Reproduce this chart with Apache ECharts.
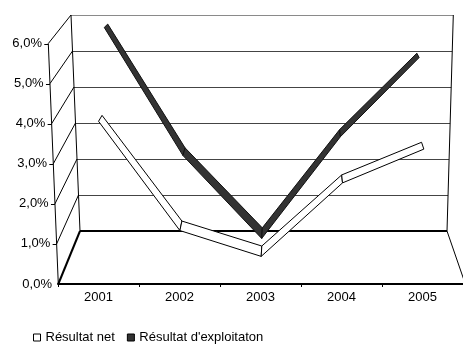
<!DOCTYPE html>
<html><head><meta charset="utf-8">
<script src="https://cdn.jsdelivr.net/npm/echarts@6/dist/echarts.min.js"></script>
<style>html,body{margin:0;padding:0;background:#fff}#c{width:463px;height:347px}</style>
</head><body><div id="c"></div>
<script>
// ---- data ----
const years = ['2001', '2002', '2003', '2004', '2005'];
const resultatNet = [3.9, 1.15, 0.5, 2.35, 3.2];
const resultatExploitation = [5.9, 2.5, 0.3, 3.0, 5.1];
const valueTicks = [0, 1, 2, 3, 4, 5, 6];
const seriesNames = ['Résultat net', "Résultat d'exploitaton"];

// ---- helpers ----
const FONT = '"Liberation Sans", Arial, sans-serif';
const chart = echarts.init(document.getElementById('c'), null, { renderer: 'canvas' });

function segments(vals) {
  const out = [];
  for (let i = 0; i < vals.length - 1; i++) out.push([i, vals[i], i + 1, vals[i + 1]]);
  return out;
}
// depth vector of the 3D ribbon (front -> back), a styling effect
function depth(i, v) { return [0.6 - 1.44 * (i - 2), -(11 - 1.3 * v)]; }

function ribbon(fill, stroke) {
  return function (params, api) {
    const i0 = api.value(0), v0 = api.value(1), i1 = api.value(2), v1 = api.value(3);
    const p0 = api.coord([i0, v0]), p1 = api.coord([i1, v1]);
    const d0 = depth(i0, v0), d1 = depth(i1, v1);
    const pts = [
      [p0[0] - d0[0] / 2, p0[1] - d0[1] / 2],
      [p1[0] - d1[0] / 2, p1[1] - d1[1] / 2],
      [p1[0] + d1[0] / 2, p1[1] + d1[1] / 2],
      [p0[0] + d0[0] / 2, p0[1] + d0[1] / 2]
    ];
    return { type: 'polygon', shape: { points: pts }, style: { fill: fill, stroke: stroke, lineWidth: 1 } };
  };
}

const rich = {};
valueTicks.forEach(function (t) {
  rich['p' + t] = { padding: [0, 10 * t / 6, 0, 0], fontSize: 13, color: '#000', fontFamily: FONT };
});

const hiddenX = function (g) { return { type: 'value', gridIndex: g, min: -0.5, max: 4.5, show: false }; };
const hiddenY = function (g) { return { type: 'value', gridIndex: g, min: 0, max: 6, interval: 1, show: false }; };

chart.setOption({
  animation: false,
  backgroundColor: '#fff',
  grid: [
    { left: 58, right: 0, top: 43.5, bottom: 63 },      // front plane
    { left: 80, right: 16, top: 15, bottom: 116 },      // back wall
    { left: 67, right: 6, top: 22.07, bottom: 102.75 }, // dark ribbon plane
    { left: 60, right: -2, top: 36.27, bottom: 76.25 }  // white ribbon plane
  ],
  xAxis: [
    {
      type: 'category', gridIndex: 0, data: years, boundaryGap: true,
      axisLine: { show: true, lineStyle: { color: '#000', width: 2 } },
      axisTick: { show: true, length: 3, lineStyle: { color: '#000', width: 1 } },
      axisLabel: { color: '#000', fontSize: 13, fontFamily: FONT, margin: 7 },
      splitLine: { show: false }
    },
    hiddenX(1), hiddenX(2), hiddenX(3)
  ],
  yAxis: [
    {
      type: 'value', gridIndex: 0, min: 0, max: 6, interval: 1,
      axisLine: { show: false }, axisTick: { show: false }, splitLine: { show: false },
      axisLabel: {
        margin: 6, color: '#000', fontSize: 13, fontFamily: FONT,
        formatter: function (v) { return '{p' + v + '|' + v.toFixed(1).replace('.', ',') + '%}'; },
        rich: rich
      }
    },
    hiddenY(1), hiddenY(2), hiddenY(3)
  ],
  legend: {
    left: 28, top: 326, itemWidth: 7, itemHeight: 7, itemGap: 12,
    textStyle: { fontSize: 13, color: '#000', fontFamily: FONT },
    data: [
      { name: seriesNames[0], icon: 'rect', itemStyle: { color: '#fff', borderColor: '#000', borderWidth: 1 } },
      { name: seriesNames[1], icon: 'rect', itemStyle: { color: '#333', borderColor: '#000', borderWidth: 1 } }
    ]
  },
  series: [
    {
      name: seriesNames[1], type: 'custom', xAxisIndex: 2, yAxisIndex: 2, z: 3,
      itemStyle: { color: '#333' },
      encode: { x: [0, 2], y: [1, 3] },
      data: segments(resultatExploitation),
      renderItem: ribbon('#333333', '#111111')
    },
    {
      name: seriesNames[0], type: 'custom', xAxisIndex: 3, yAxisIndex: 3, z: 4,
      itemStyle: { color: '#fff' },
      encode: { x: [0, 2], y: [1, 3] },
      data: segments(resultatNet),
      renderItem: ribbon('#ffffff', '#000000')
    }
  ]
});

// ---- 3D frame (walls, floor, slanted front axis) ----
function lerp(a, b, t) { return a + (b - a) * t; }
const yF = function (v) { return chart.convertToPixel({ yAxisIndex: 0 }, v); };
const yB = function (v) { return chart.convertToPixel({ yAxisIndex: 1 }, v); };
const FRONT_L = [58.3, 48.3], BACK_L = [80, 71], BACK_R = [447, 453.3];
const crisp = function (y) { return Math.round(y) + 0.5; };
const g = [];
function seg(x1, y1, x2, y2, color, w) {
  g.push({ type: 'line', silent: true, z: 1, shape: { x1: x1, y1: y1, x2: x2, y2: y2 }, style: { stroke: color, lineWidth: w } });
}
const vmax = valueTicks[valueTicks.length - 1];
valueTicks.forEach(function (v) {
  const t = v / vmax;
  const xf = lerp(FRONT_L[0], FRONT_L[1], t), yf = yF(v);
  const xbl = lerp(BACK_L[0], BACK_L[1], t), xbr = lerp(BACK_R[0], BACK_R[1], t), yb = yB(v);
  if (v === 0) seg(xbl, Math.round(yb), xbr, Math.round(yb), '#000', 2);
  else seg(xbl, crisp(yb), xbr, crisp(yb), v === vmax ? '#8a8a8a' : '#444', 1);
  seg(xf, yf, xbl, yb, '#000', v === 0 ? 2 : 1);
  if (v > 0) seg(xf - 4, crisp(yf), xf, crisp(yf), '#000', 1);
});
seg(FRONT_L[0], yF(0), FRONT_L[1], yF(vmax), '#000', 1);
seg(BACK_L[0], yB(0), BACK_L[1], yB(vmax), '#000', 1);
seg(BACK_R[0], yB(0), BACK_R[1], yB(vmax), '#000', 1);
seg(BACK_R[0], yB(0), 465.3, yF(0), '#000', 1);
chart.setOption({ graphic: { elements: g } });
</script>
</body></html>
